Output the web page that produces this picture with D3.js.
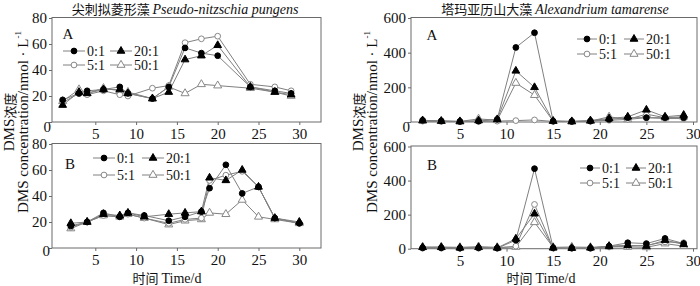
<!DOCTYPE html>
<html><head><meta charset="utf-8">
<script src="https://cdn.jsdelivr.net/npm/d3@7"></script>
<style>
body{margin:0;background:#fff;}
text{font-family:"Liberation Serif","Times New Roman","Noto Sans CJK SC",serif;fill:#111;}
</style></head>
<body><svg id="c" width="700" height="286"></svg>
<script>
// ---------- data ----------
const seriesNames = ["0:1", "20:1", "5:1", "50:1"];
const xTicks = [5, 10, 15, 20, 25, 30];
const yTicksLeft = [0, 20, 40, 60, 80];
const yTicksRight = [0, 200, 400, 600];

// Pseudo-nitzschia pungens, A
const daysLA = [1, 3, 4, 6, 8, 9, 12, 14, 16, 18, 20, 24, 27, 29];
const LA_0_1  = [17, 22, 24, 25, 27, 22, 18, 27, 57, 53, 51, 27, 24, 22];
const LA_20_1 = [13, 23, 22, 25, 25, 22, 18, 23, 48, 51, 59, 27, 23, 21];
const LA_5_1  = [15, 22, 21, 24, 21, 20, 26, 28, 61, 64, 66, 29, 27, 24];
const LA_50_1 = [16, 25, 22, 26, 24, 23, 18, 27, 22, 29, 28, 26, 23, 20];

// Pseudo-nitzschia pungens, B
const daysLB = [2, 4, 6, 8, 9, 11, 14, 16, 18, 19, 21, 23, 25, 27, 30];
const LB_0_1  = [17, 20, 27, 24, 27, 25, 21, 24, 28, 46, 64, 42, 47, 23, 19];
const LB_20_1 = [19, 20, 26, 25, 27, 24, 26, 27, 28, 54, 52, 60, 47, 23, 20];
const LB_5_1  = [16, 20, 25, 24, 26, 23, 19, 22, 23, 52, 56, 59, 47, 23, 19];
const LB_50_1 = [15, 20, 25, 24, 26, 23, 18, 21, 22, 27, 26, 37, 24, 22, 19];

// Alexandrium tamarense, A
const daysR = [1, 3, 5, 7, 9, 11, 13, 15, 17, 19, 21, 23, 25, 27, 29];
const RA_0_1  = [10, 6, 3, 5, 15, 430, 515, 5, 3, 5, 15, 25, 25, 25, 25];
const RA_20_1 = [8, 5, 3, 8, 15, 295, 200, 5, 3, 8, 20, 30, 70, 30, 40];
const RA_5_1  = [5, 3, 3, 3, 5, 8, 12, 3, 3, 5, 10, 15, 25, 20, 20];
const RA_50_1 = [8, 5, 3, 18, 10, 225, 155, 5, 3, 5, 30, 15, 45, 25, 30];

// Alexandrium tamarense, B
const RB_0_1  = [5, 5, 3, 5, 3, 50, 470, 5, 3, 3, 15, 35, 30, 60, 30];
const RB_20_1 = [8, 8, 5, 8, 5, 58, 205, 5, 3, 5, 15, 20, 15, 50, 25];
const RB_5_1  = [3, 3, 3, 3, 3, 15, 260, 3, 3, 3, 10, 15, 20, 40, 35];
const RB_50_1 = [10, 10, 8, 12, 8, 10, 155, 8, 10, 8, 12, 10, 8, 30, 15];

// ---------- drawing ----------
const SERIF = "'Liberation Serif','Times New Roman',serif";
const svg = d3.select("#c");
const styles = {
  "0:1":  {shape: d3.symbolCircle,   fill: "#000", stroke: "#000", size: 26},
  "20:1": {shape: d3.symbolTriangle, fill: "#000", stroke: "#000", size: 26},
  "5:1":  {shape: d3.symbolCircle,   fill: "#fff", stroke: "#888", size: 26},
  "50:1": {shape: d3.symbolTriangle, fill: "#fff", stroke: "#888", size: 28}
};
const lineColor = "#808080";

function panel(cfg) {
  const g = svg.append("g");
  const x = d3.scaleLinear().domain([0, 30]).range(cfg.xr);
  const y = d3.scaleLinear().domain([0, cfg.ymax]).range(cfg.yr);

  // frame
  g.append("rect").attr("x", cfg.fx[0]).attr("y", cfg.fy[0])
    .attr("width", cfg.fx[1] - cfg.fx[0]).attr("height", cfg.fy[1] - cfg.fy[0])
    .attr("fill", "none").attr("stroke", "#6a6a6a").attr("stroke-width", 1);

  // x axis
  const xa = g.append("g").attr("transform", `translate(0,${cfg.fy[1]})`)
    .call(d3.axisBottom(x).tickValues(xTicks).tickSize(3).tickPadding(3.5).tickFormat(d3.format("d")))
    .attr("font-family", SERIF).attr("font-size", 15);
  xa.select(".domain").remove();
  xa.selectAll("line").attr("stroke", "#6a6a6a");
  xa.selectAll("text").style("font-family", SERIF).attr("fill", "#111");

  // y axis
  const ya = g.append("g").attr("transform", `translate(${cfg.fx[0]},0)`)
    .call(d3.axisLeft(y).tickValues(cfg.yticks).tickSize(3).tickPadding(2).tickFormat(d3.format("d")))
    .attr("font-family", SERIF).attr("font-size", 15);
  ya.select(".domain").remove();
  ya.selectAll("line").attr("stroke", "#6a6a6a");
  ya.selectAll("text").style("font-family", SERIF).attr("fill", "#111")
    .attr("transform", d => d === 0 ? `translate(${cfg.zeroShift[0]},${cfg.zeroShift[1]})` : null);

  // series
  const order = ["50:1", "5:1", "20:1", "0:1"];
  order.forEach(name => {
    const vals = cfg.data[name];
    const pts = cfg.days.map((d, i) => [d, vals[i]]);
    g.append("path").datum(pts)
      .attr("d", d3.line().x(p => x(p[0])).y(p => y(p[1])))
      .attr("fill", "none").attr("stroke", lineColor).attr("stroke-width", 1);
  });
  order.forEach(name => {
    const st = styles[name];
    const vals = cfg.data[name];
    g.selectAll(null).data(cfg.days.map((d, i) => [d, vals[i]])).enter()
      .append("path")
      .attr("d", d3.symbol().type(st.shape).size(st.size))
      .attr("transform", p => `translate(${x(p[0])},${y(p[1])})`)
      .attr("fill", st.fill).attr("stroke", st.stroke).attr("stroke-width", 1);
  });

  // panel letter
  g.append("text").attr("x", cfg.letter[0]).attr("y", cfg.letter[1])
    .attr("text-anchor", "middle").attr("dominant-baseline", "central")
    .attr("font-size", 15).text(cfg.letterText);

  // legend
  const items = [["0:1", 0, 0], ["20:1", 1, 0], ["5:1", 0, 1], ["50:1", 1, 1]];
  items.forEach(([name, col, row]) => {
    const st = styles[name];
    const lx = cfg.legCols[col], ly = cfg.legRows[row], len = cfg.legLen;
    g.append("line").attr("x1", lx).attr("x2", lx + len).attr("y1", ly).attr("y2", ly)
      .attr("stroke", lineColor).attr("stroke-width", 1);
    g.append("path").attr("d", d3.symbol().type(st.shape).size(st.size))
      .attr("transform", `translate(${lx + len / 2},${ly})`)
      .attr("fill", st.fill).attr("stroke", st.stroke);
    g.append("text").attr("x", lx + len + 2).attr("y", ly)
      .attr("dominant-baseline", "central").attr("font-size", 14).text(name);
  });
  return g;
}

panel({
  xr: [54.5, 299.3], ymax: 80, yr: [122, 18], fx: [52, 321], fy: [17.5, 122],
  yticks: yTicksLeft, zeroShift: [4, 5], days: daysLA,
  data: {"0:1": LA_0_1, "20:1": LA_20_1, "5:1": LA_5_1, "50:1": LA_50_1},
  letter: [68, 34], letterText: "A",
  legCols: [63, 110], legRows: [51, 65], legLen: 22
});
panel({
  xr: [54.5, 299.3], ymax: 80, yr: [248, 144], fx: [52, 321], fy: [143.5, 248],
  yticks: yTicksLeft, zeroShift: [3, 3], days: daysLB,
  data: {"0:1": LB_0_1, "20:1": LB_20_1, "5:1": LB_5_1, "50:1": LB_50_1},
  letter: [70, 164], letterText: "B",
  legCols: [93, 142], legRows: [158, 175], legLen: 22
});
panel({
  xr: [413.3, 693], ymax: 600, yr: [122, 18], fx: [411, 697], fy: [17.5, 122],
  yticks: yTicksRight, zeroShift: [4, 5], days: daysR,
  data: {"0:1": RA_0_1, "20:1": RA_20_1, "5:1": RA_5_1, "50:1": RA_50_1},
  letter: [432, 35], letterText: "A",
  legCols: [577, 624], legRows: [39, 54], legLen: 20
});
panel({
  xr: [413.3, 693], ymax: 600, yr: [248.7, 146.5], fx: [411, 697], fy: [146, 248.7],
  yticks: yTicksRight, zeroShift: [0, 0], days: daysR,
  data: {"0:1": RB_0_1, "20:1": RB_20_1, "5:1": RB_5_1, "50:1": RB_50_1},
  letter: [432, 165], letterText: "B",
  legCols: [580, 626], legRows: [168, 183], legLen: 20
});

// titles
function title(cx, cjk, latin) {
  const t = svg.append("text").attr("x", cx).attr("y", 14).attr("text-anchor", "middle").attr("font-size", 14);
  t.append("tspan").style("font-family", "'Noto Sans CJK SC'").attr("font-size", 13).text(cjk + " ");
  t.append("tspan").attr("font-style", "italic").text(latin);
}
title(185, "尖刺拟菱形藻", "Pseudo-nitzschia pungens");
title(555, "塔玛亚历山大藻", "Alexandrium tamarense");

// x titles
[167, 541].forEach(cx => {
  const t = svg.append("text").attr("x", cx).attr("y", 283).attr("text-anchor", "middle").attr("font-size", 14);
  t.append("tspan").style("font-family", "'Noto Sans CJK SC'").attr("font-size", 13).text("时间 ");
  t.append("tspan").text("Time/d");
});

// y titles
[[9, 23], [358, 372]].forEach(([x1, x2]) => {
  const cy = 122;
  const t1 = svg.append("text").attr("transform", `translate(${x1},${cy}) rotate(-90)`)
    .attr("text-anchor", "middle").attr("dominant-baseline", "central").attr("font-size", 15);
  t1.append("tspan").text("DMS");
  t1.append("tspan").style("font-family", "'Noto Sans CJK SC'").attr("font-size", 13).text("浓度");
  const t2 = svg.append("text").attr("transform", `translate(${x2},${cy}) rotate(-90)`)
    .attr("text-anchor", "middle").attr("dominant-baseline", "central").attr("font-size", 15);
  t2.append("tspan").text("DMS concentration/nmol · L");
  t2.append("tspan").attr("font-size", 9).attr("dy", -5).text("-1");
});
</script></body></html>
